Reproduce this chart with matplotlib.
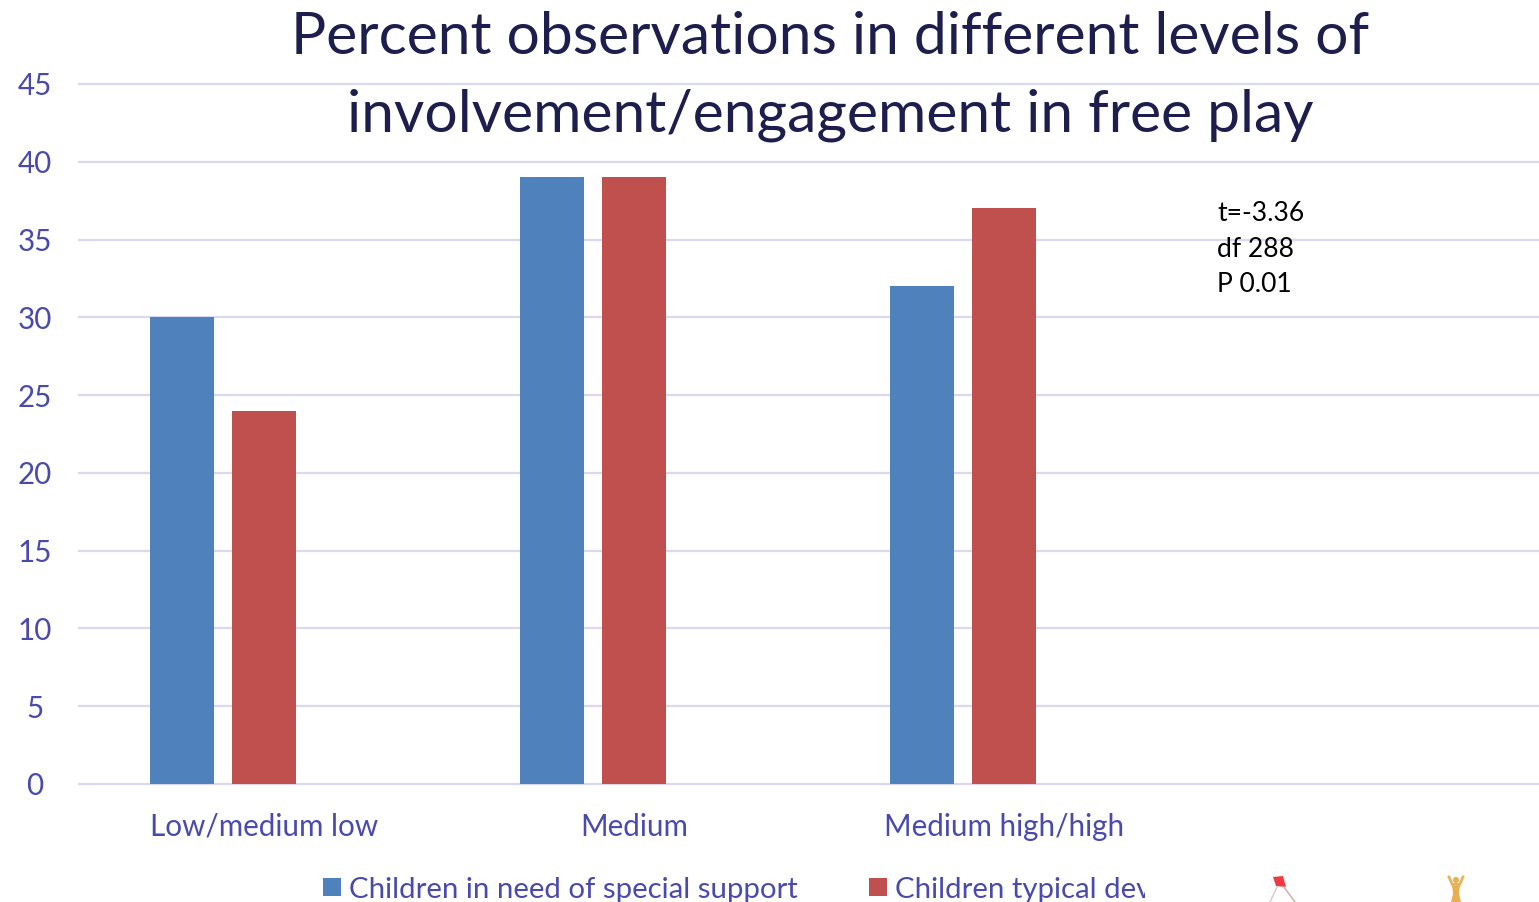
import numpy as np
import matplotlib
matplotlib.use("Agg")
import matplotlib.pyplot as plt
from matplotlib.patches import Polygon, Rectangle
from matplotlib.transforms import Bbox, ScaledTranslation

plt.rcParams['font.family'] = ['Lato', 'DejaVu Sans']

# last category is empty, it only reserves room on the right
categories = ["Low/medium low", "Medium", "Medium high/high", ""]
special_support = [30, 39, 32]
typical_dev = [24, 39, 37]
series_names = ["Children in need of special support", "Children typical development"]
title_lines = ["Percent observations in different levels of",
               "involvement/engagement in free play"]
stats_lines = ["t=-3.36", "df 288", "P 0.01"]
y_ticks = list(range(0, 50, 5))

W, H = 1539, 903
BLUE = "#4F81BD"
RED = "#C0504D"
TEXT = "#4A4AAE"
TITLE = "#1E1E4E"
GRID = "#D9D9EF"

fig = plt.figure(figsize=(W / 100, H / 100), dpi=100)
ax = fig.add_axes([79 / W, 1 - 785 / H, (W - 79) / W, 700 / H])

# each group has 370 px, bars are 64 px wide with a step of 82 px
bar_w = 64 / 370
step = 82 / 370
x1 = np.arange(len(special_support)) - step
x2 = np.arange(len(typical_dev))
ax.bar(x1, special_support, bar_w, color=BLUE, zorder=3)
ax.bar(x2, typical_dev, bar_w, color=RED, zorder=3)

ax.set_xlim(-0.5, -0.5 + (W - 79) / 370)
ax.set_ylim(0, 45)
ax.set_yticks(y_ticks)
ax.set_xticks(range(len(categories)))
ax.set_xticklabels(categories)
ax.tick_params(axis='both', length=0, labelcolor=TEXT, labelsize=21.3)
ax.tick_params(axis='x', pad=20)
ax.tick_params(axis='y', pad=32)
# y labels sit centred in their column and a pixel above the gridline
nudge = ScaledTranslation(0, 1 / 100, fig.dpi_scale_trans)
for lab in ax.get_yticklabels():
    lab.set_horizontalalignment('center')
    lab.set_transform(lab.get_transform() + nudge)
ax.grid(axis='y', color=GRID, lw=1.6, zorder=1)
ax.set_axisbelow(True)
for s in ax.spines.values():
    s.set_visible(False)
# top and bottom gridlines sit on the axes edge, keep their full width
for line in ax.get_ygridlines():
    line.set_clip_on(False)

# overlay in pixel coordinates for the title, notes, legend and the little pictures
ov = fig.add_axes([0, 0, 1, 1])
ov.set_xlim(0, W)
ov.set_ylim(H, 0)
ov.axis('off')
ov.patch.set_alpha(0)

ov.text(830, 37, title_lines[0], ha='center', va='center', fontsize=42.3, color=TITLE)
ov.text(830, 115, title_lines[1], ha='center', va='center', fontsize=42.3, color=TITLE)

for txt, y in zip(stats_lines, [214, 250, 285]):
    ov.text(1217, y, txt, ha='left', va='center', fontsize=19.1, color='black')

# legend, the second entry gets cut off by its box
ov.add_patch(Rectangle((323, 879), 18, 18, color=BLUE, lw=0))
ov.text(349, 890, series_names[0], ha='left', va='center', fontsize=21.2, color=TEXT)
ov.add_patch(Rectangle((869, 879), 18, 18, color=RED, lw=0))
t = ov.text(895, 890, series_names[1], ha='left', va='center', fontsize=21.2, color=TEXT)
t.set_clip_on(True)
t.set_clip_box(Bbox([[895, 0], [1145, H]]))

# kite
ov.add_patch(Polygon([(1273, 878), (1283, 877), (1286, 888), (1276, 887)], color="#EE3A43", lw=0))
ov.plot([1277, 1270], [888, 903], color="#D9C8C8", lw=1)
ov.plot([1284, 1295], [888, 903], color="#C9A8A8", lw=1)

# little figure with raised arms
ov.plot([1449, 1453, 1456, 1459, 1463], [878, 887, 885, 887, 878], color="#E8B45A", lw=2)
ov.add_patch(Polygon([(1452, 884), (1460, 884), (1459, 895), (1461, 903), (1451, 903), (1453, 895)],
                     color="#E8AE50", lw=0))
ov.add_patch(plt.Circle((1456, 881), 3, color="#E8AE50", lw=0))
ov.set_xlim(0, W)
ov.set_ylim(H, 0)

fig.savefig("out.png", dpi=100)
